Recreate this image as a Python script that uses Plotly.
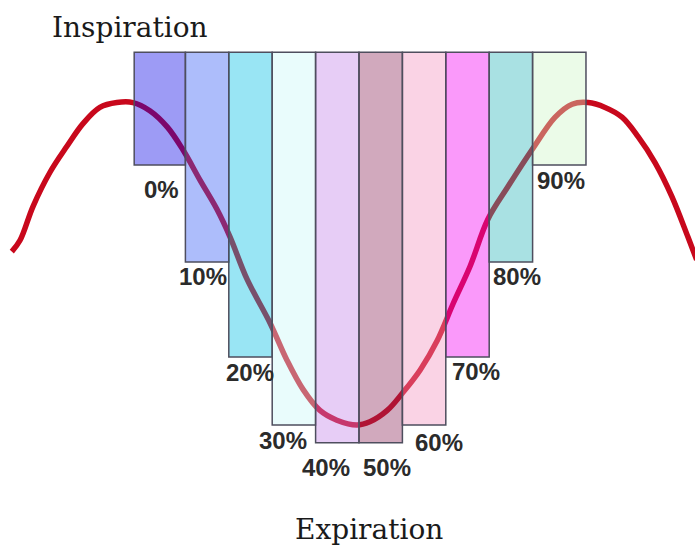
import plotly.graph_objects as go

# breathing trace (x: bin units, y: normalised amplitude)
curve_x = [-8.0, -7.81, -7.51, -7.12, -6.73, -6.36, -5.97, -5.58, -5.21, -4.82,
           -4.42, -4.06, -3.66, -3.27, -2.97, -2.58, -2.05, -1.66, -1.29, -0.90,
           -0.51, -0.05, 0.25, 0.65, 1.01, 1.41, 1.80, 2.17, 2.56, 2.97,
           3.43, 3.99, 4.52, 4.91, 5.28, 5.67, 6.06, 6.43, 6.82, 7.21, 7.58, 7.78]
curve_y = [0.07, 0.14, 0.35, 0.56, 0.72, 0.86, 0.96, 0.99, 0.99, 0.94,
           0.84, 0.70, 0.51, 0.33, 0.16, -0.10, -0.37, -0.60, -0.78, -0.91,
           -0.97, -1.00, -0.98, -0.91, -0.80, -0.66, -0.48, -0.25, -0.02, 0.27,
           0.47, 0.70, 0.90, 0.98, 0.99, 0.96, 0.90, 0.78, 0.62, 0.41, 0.16, 0.02]

# amplitude bins
bin_labels = ["0%", "10%", "20%", "30%", "40%", "50%", "60%", "70%", "80%", "90%"]
bin_edges = [-5.18, -4, -3, -2, -1, 0, 1, 2, 3, 4, 5.23]
bin_top = 1.30
bin_bottom = [0.605, 0.006, -0.58, -1.0, -1.11, -1.11, -1.0, -0.58, 0.006, 0.605]

bar_colors = [
    "rgba(10,5,230,0.4)", "rgba(50,90,245,0.4)", "rgba(0,190,228,0.4)",
    "rgba(200,248,248,0.4)", "rgba(195,130,232,0.4)", "rgba(140,40,90,0.4)",
    "rgba(242,145,190,0.4)", "rgba(242,0,242,0.4)", "rgba(40,180,185,0.4)",
    "rgba(205,245,197,0.4)",
]
# label nudges in px (dx, dy below the bar bottom)
label_dx = [2, -4, -1, -11, -11, 6, 15, 8, 6, 2]
label_dy = [25, 14, 16, 15, 25, 25, 17, 15, 14, 16]

centers = [(a + b) / 2 for a, b in zip(bin_edges[:-1], bin_edges[1:])]
widths = [b - a for a, b in zip(bin_edges[:-1], bin_edges[1:])]
heights = [bin_top - b for b in bin_bottom]

XR = [-8.272, 7.742]
YR = [-1.765, 1.623]

fig = go.Figure()
fig.add_trace(go.Scatter(
    x=curve_x, y=curve_y, mode="lines", line_shape="spline",
    line=dict(color="#c8081c", width=5.5), hoverinfo="skip",
))
# bars sit on an overlaying subplot so they are drawn over the trace
fig.add_trace(go.Bar(
    x=centers, y=heights, base=bin_bottom, width=widths,
    xaxis="x2", yaxis="y2",
    marker=dict(color=bar_colors, line=dict(color="#4e4e5e", width=1.5)),
    hoverinfo="skip",
))

for c, b, lab, dx, dy in zip(centers, bin_bottom, bin_labels, label_dx, label_dy):
    fig.add_annotation(x=c, y=b, text=lab, showarrow=False, xanchor="center",
                       yanchor="middle", xshift=dx, yshift=-dy,
                       font=dict(family="Liberation Sans", size=24,
                                 weight="bold", color="#2b2b2b"))

title_font = dict(family="DejaVu Serif", size=28, color="#1a1a1a")
fig.add_annotation(x=130 / 695, y=1 - 27 / 549, xref="paper", yref="paper",
                   xanchor="center", yanchor="middle",
                   text="Inspiration", showarrow=False, font=title_font)
fig.add_annotation(x=369 / 695, y=1 - 529 / 549, xref="paper", yref="paper",
                   xanchor="center", yanchor="middle",
                   text="Expiration", showarrow=False, font=title_font)

fig.update_layout(
    width=695, height=549, margin=dict(l=0, r=0, t=0, b=0),
    paper_bgcolor="white", plot_bgcolor="white", showlegend=False,
    xaxis=dict(range=XR, visible=False, fixedrange=True),
    yaxis=dict(range=YR, visible=False, fixedrange=True),
    xaxis2=dict(range=XR, visible=False, fixedrange=True, overlaying="x"),
    yaxis2=dict(range=YR, visible=False, fixedrange=True, overlaying="y"),
)
fig.write_html("out.html", config={"displayModeBar": False},
               post_script="document.body.style.margin='0';")
